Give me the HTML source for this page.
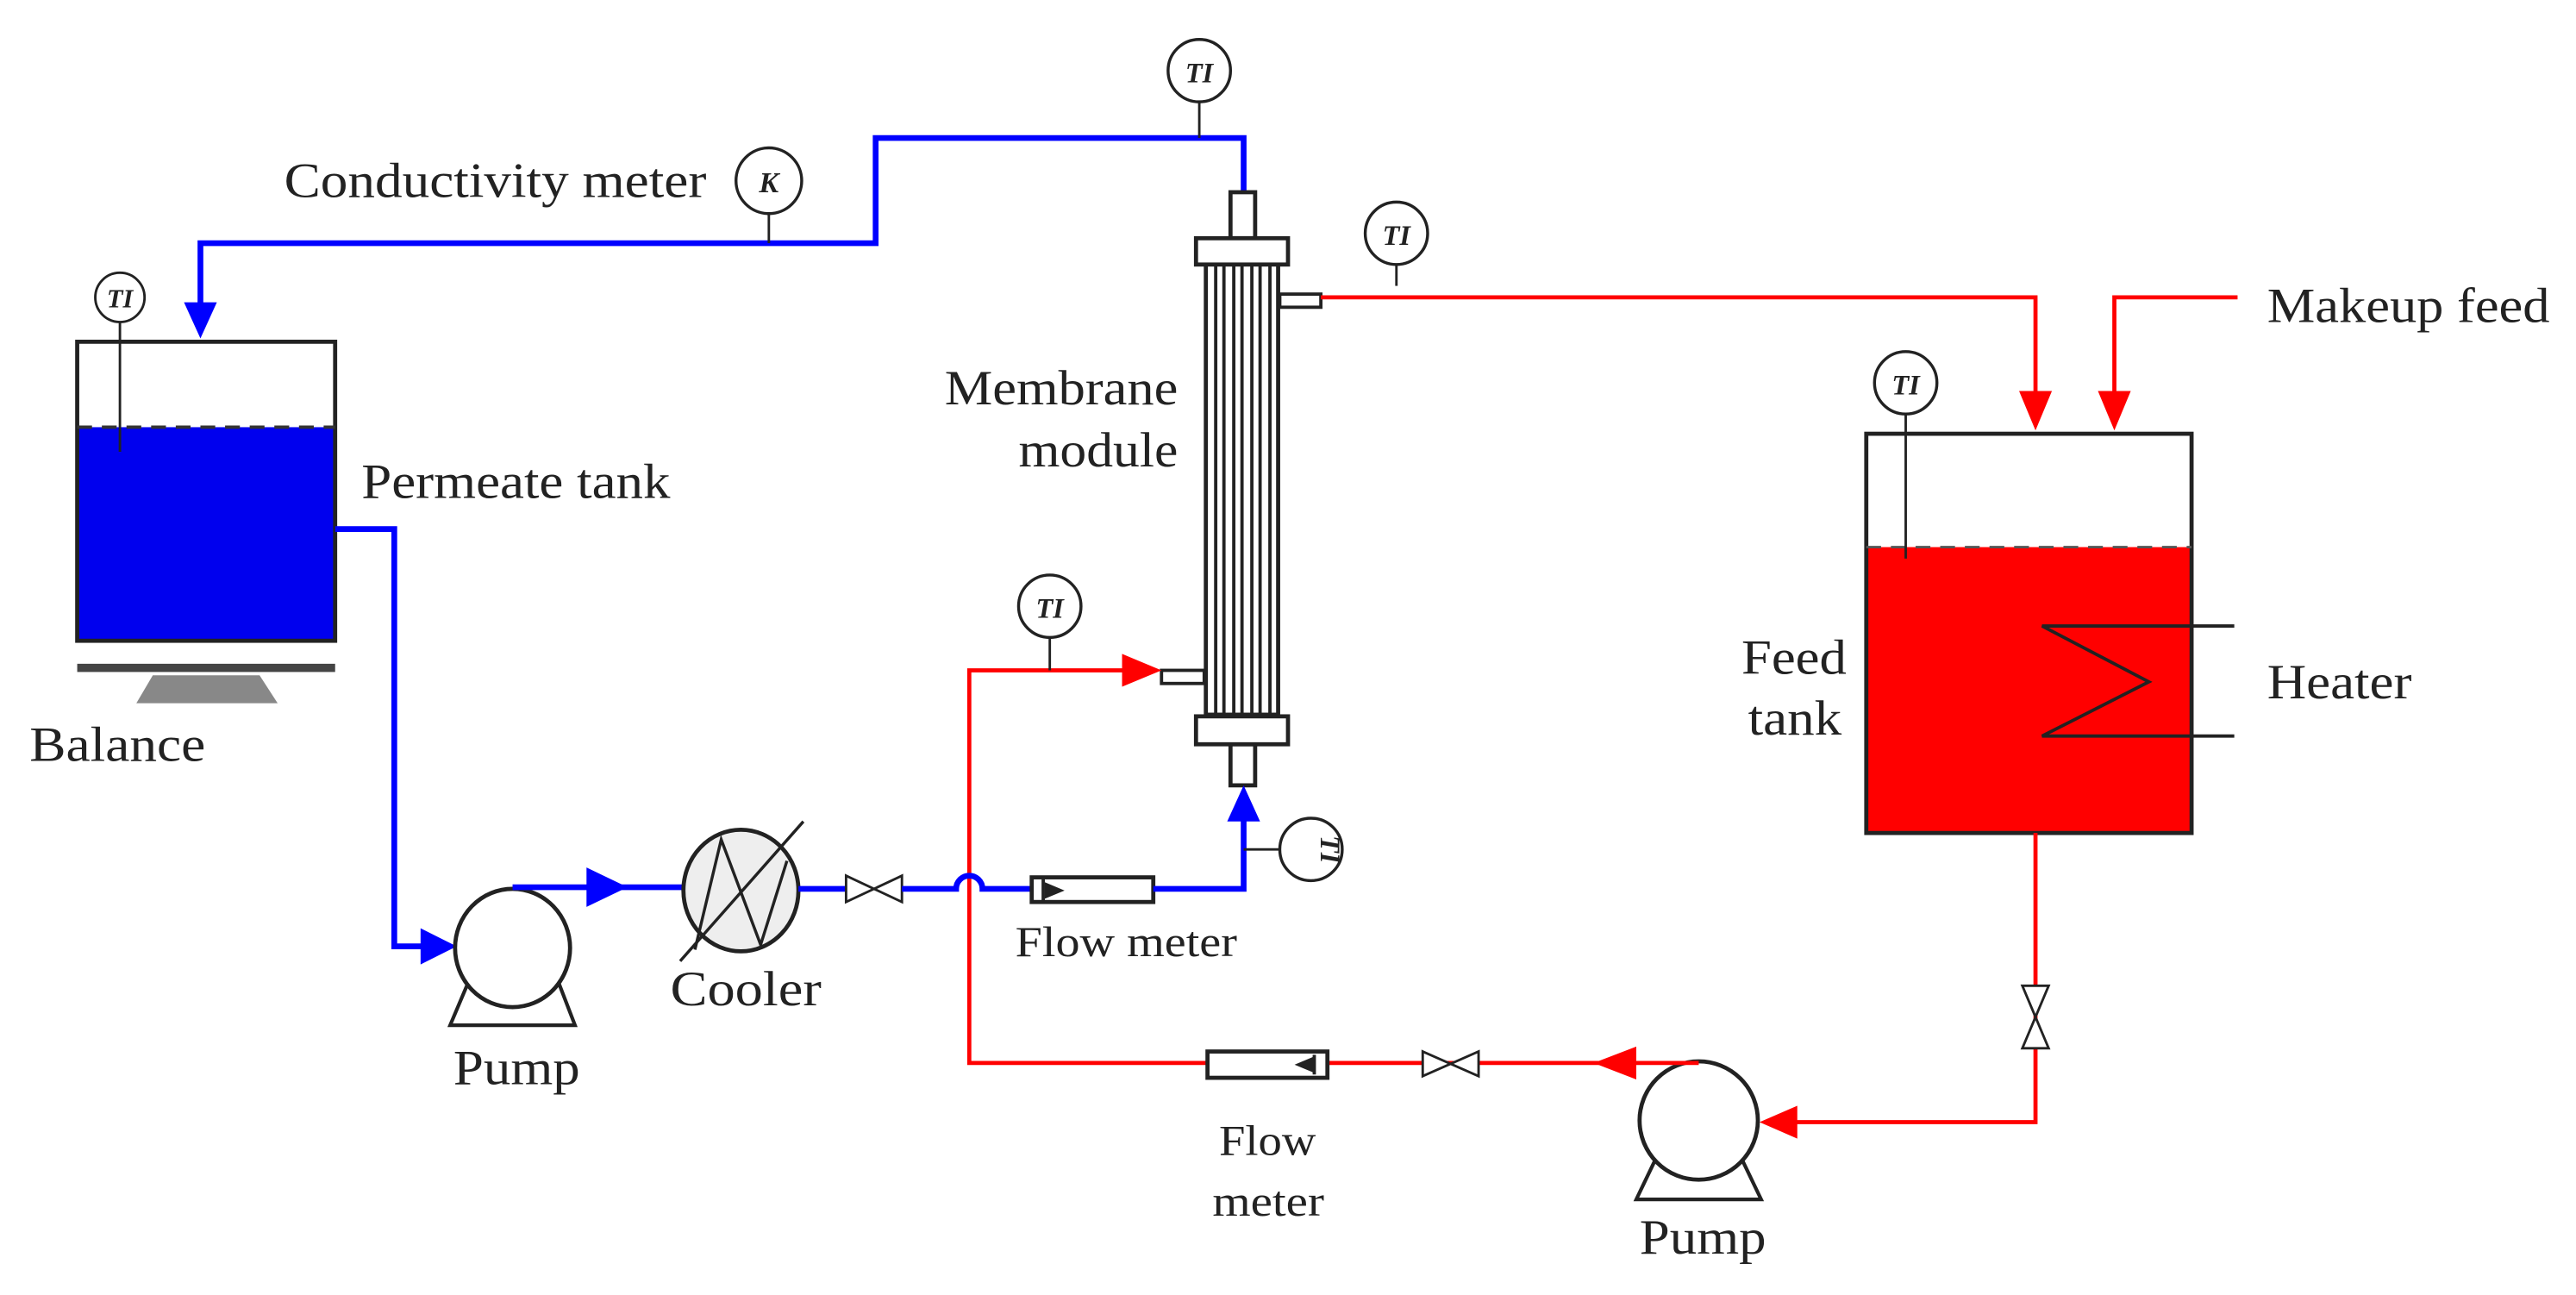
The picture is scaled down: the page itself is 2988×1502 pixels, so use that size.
<!DOCTYPE html>
<html><head><meta charset="utf-8"><style>
html,body{margin:0;padding:0;background:#fff;}
svg{display:block;}
text{font-family:"Liberation Serif",serif;fill:#222;}
</style></head><body>
<svg width="2988" height="1502" viewBox="0 0 1568 788.2" preserveAspectRatio="none" xmlns="http://www.w3.org/2000/svg">
<rect x="0" y="0" width="1568" height="789" fill="#fff"/>
<!-- Permeate tank -->
<rect x="47" y="260" width="157" height="130" fill="#0000ee"/>
<rect x="47" y="208" width="157" height="182" fill="none" stroke="#222" stroke-width="2.5"/>
<line x1="47" y1="260" x2="204" y2="260" stroke="#333" stroke-width="2" stroke-dasharray="9,6"/>
<line x1="73" y1="196" x2="73" y2="275" stroke="#222" stroke-width="1.5"/>
<circle cx="73" cy="181" r="15" fill="#fff" stroke="#222" stroke-width="1.5"/>
<text x="73" y="187" font-size="16" font-style="italic" font-weight="bold" text-anchor="middle">TI</text>
<!-- Balance -->
<rect x="47" y="404" width="157" height="5" fill="#444"/>
<polygon points="93,411 158,411 169,428 83,428" fill="#888"/>
<text x="18" y="463" font-size="30" textLength="107" lengthAdjust="spacingAndGlyphs">Balance</text>
<text x="220" y="303" font-size="30" textLength="188" lengthAdjust="spacingAndGlyphs">Permeate tank</text>
<!-- Blue top line -->
<polyline points="122,185 122,148 533,148 533,84 757,84 757,117" fill="none" stroke="#0000ff" stroke-width="3.5"/>
<polygon points="112,184 132,184 122,206" fill="#0000ff"/>
<line x1="468" y1="130" x2="468" y2="148" stroke="#222" stroke-width="1.5"/>
<circle cx="468" cy="110" r="20" fill="#fff" stroke="#222" stroke-width="1.8"/>
<text x="468" y="117" font-size="18" font-style="italic" font-weight="bold" text-anchor="middle">K</text>
<text x="173" y="120" font-size="30" textLength="257" lengthAdjust="spacingAndGlyphs">Conductivity meter</text>
<line x1="730" y1="62" x2="730" y2="84" stroke="#222" stroke-width="1.5"/>
<circle cx="730" cy="43" r="19" fill="#fff" stroke="#222" stroke-width="1.8"/>
<text x="730" y="50" font-size="17" font-style="italic" font-weight="bold" text-anchor="middle">TI</text>
<!-- Membrane module -->
<rect x="749" y="117" width="15" height="28" fill="#fff" stroke="#222" stroke-width="2.5"/>
<rect x="749" y="453" width="15" height="25" fill="#fff" stroke="#222" stroke-width="2.5"/>
<rect x="779" y="179" width="25" height="8" fill="#fff" stroke="#222" stroke-width="2"/>
<rect x="707" y="408" width="26" height="8" fill="#fff" stroke="#222" stroke-width="2"/>
<rect x="734" y="160" width="44" height="275" fill="#fff" stroke="#222" stroke-width="2.5"/>
<g stroke="#222" stroke-width="2">
<line x1="740" y1="160" x2="740" y2="435"/><line x1="745" y1="160" x2="745" y2="435"/>
<line x1="751" y1="160" x2="751" y2="435"/><line x1="756" y1="160" x2="756" y2="435"/>
<line x1="762" y1="160" x2="762" y2="435"/><line x1="767" y1="160" x2="767" y2="435"/>
<line x1="773" y1="160" x2="773" y2="435"/>
</g>
<rect x="728" y="145" width="56" height="16" fill="#fff" stroke="#222" stroke-width="2.5"/>
<rect x="728" y="436" width="56" height="17" fill="#fff" stroke="#222" stroke-width="2.5"/>
<text x="717" y="246" font-size="30" text-anchor="end" textLength="142" lengthAdjust="spacingAndGlyphs">Membrane</text>
<text x="717" y="284" font-size="30" text-anchor="end" textLength="97" lengthAdjust="spacingAndGlyphs">module</text>
<!-- Red top line -->
<polyline points="804,181 1239,181 1239,240" fill="none" stroke="#ff0000" stroke-width="2.5"/>
<polygon points="1229,238 1249,238 1239,262" fill="#ff0000"/>
<polyline points="1362,181 1287,181 1287,240" fill="none" stroke="#ff0000" stroke-width="2.5"/>
<polygon points="1277,238 1297,238 1287,262" fill="#ff0000"/>
<line x1="850" y1="161" x2="850" y2="174" stroke="#222" stroke-width="1.5"/>
<circle cx="850" cy="142" r="19" fill="#fff" stroke="#222" stroke-width="1.8"/>
<text x="850" y="149" font-size="17" font-style="italic" font-weight="bold" text-anchor="middle">TI</text>
<text x="1380" y="196" font-size="30" textLength="172" lengthAdjust="spacingAndGlyphs">Makeup feed</text>
<!-- Feed tank -->
<rect x="1136" y="333" width="198" height="174" fill="#ff0000"/>
<rect x="1136" y="264" width="198" height="243" fill="none" stroke="#222" stroke-width="2.5"/>
<line x1="1136" y1="333" x2="1334" y2="333" stroke="#555" stroke-width="1.5" stroke-dasharray="9,6"/>
<line x1="1160" y1="252" x2="1160" y2="340" stroke="#222" stroke-width="1.5"/>
<circle cx="1160" cy="233" r="19" fill="#fff" stroke="#222" stroke-width="1.8"/>
<text x="1160" y="240" font-size="17" font-style="italic" font-weight="bold" text-anchor="middle">TI</text>
<polyline points="1360,381 1243,381 1308,415 1243,448 1360,448" fill="none" stroke="#222" stroke-width="2"/>
<text x="1060" y="410" font-size="30" textLength="64" lengthAdjust="spacingAndGlyphs">Feed</text>
<text x="1064" y="447" font-size="30" textLength="57" lengthAdjust="spacingAndGlyphs">tank</text>
<text x="1380" y="425" font-size="30" textLength="88" lengthAdjust="spacingAndGlyphs">Heater</text>
<!-- Red bottom loop -->
<polyline points="1239,507 1239,683 1090,683" fill="none" stroke="#ff0000" stroke-width="2.5"/>
<polygon points="1231,600 1247,600 1231,638 1247,638" fill="#fff" stroke="#222" stroke-width="1.5"/>
<polygon points="1094,673 1094,693 1071,683" fill="#ff0000"/>
<polygon points="1008,705 1060,705 1072,730 996,730" fill="#fff" stroke="#222" stroke-width="2.2"/>
<circle cx="1034" cy="682" r="36" fill="#fff" stroke="#222" stroke-width="2.5"/>
<text x="998" y="763" font-size="30" textLength="77" lengthAdjust="spacingAndGlyphs">Pump</text>
<polyline points="1034,647 590,647 590,408 690,408" fill="none" stroke="#ff0000" stroke-width="2.5"/>
<polygon points="996,637 996,657 970,647" fill="#ff0000"/>
<polygon points="683,398 683,418 707,408" fill="#ff0000"/>
<polygon points="866,640 866,655 900,640 900,655" fill="#fff" stroke="#222" stroke-width="1.5"/>
<rect x="735" y="640" width="73" height="16" fill="#fff" stroke="#222" stroke-width="2.5"/>
<polygon points="800,643 800,653 788,648" fill="#222"/>
<line x1="800" y1="642" x2="800" y2="654" stroke="#222" stroke-width="2"/>
<text x="742" y="703" font-size="26" textLength="59" lengthAdjust="spacingAndGlyphs">Flow</text>
<text x="738" y="740" font-size="26" textLength="68" lengthAdjust="spacingAndGlyphs">meter</text>
<line x1="639" y1="388" x2="639" y2="408" stroke="#222" stroke-width="1.5"/>
<circle cx="639" cy="369" r="19" fill="#fff" stroke="#222" stroke-width="1.8"/>
<text x="639" y="376" font-size="17" font-style="italic" font-weight="bold" text-anchor="middle">TI</text>
<!-- Blue bottom loop -->
<polyline points="204,322 240,322 240,576 260,576" fill="none" stroke="#0000ff" stroke-width="3.5"/>
<polygon points="256,565 256,587 278,576" fill="#0000ff"/>
<polygon points="285,598 340,598 350,624 274,624" fill="#fff" stroke="#222" stroke-width="2.2"/>
<ellipse cx="312" cy="577" rx="35" ry="36" fill="#fff" stroke="#222" stroke-width="2.5"/>
<text x="276" y="660" font-size="30" textLength="77" lengthAdjust="spacingAndGlyphs">Pump</text>
<polyline points="312,540 417,540" fill="none" stroke="#0000ff" stroke-width="3.5"/>
<polygon points="357,528 357,552 382,540" fill="#0000ff"/>
<ellipse cx="451" cy="542" rx="35" ry="37" fill="#eee" stroke="#222" stroke-width="2.5"/>
<polyline points="423,578 439,511 463,575 479,524" fill="none" stroke="#222" stroke-width="1.8"/>
<line x1="414" y1="585" x2="489" y2="500" stroke="#222" stroke-width="1.8"/>
<text x="408" y="612" font-size="30" textLength="92" lengthAdjust="spacingAndGlyphs">Cooler</text>
<polyline points="486,541 515,541" fill="none" stroke="#0000ff" stroke-width="3.5"/>
<polygon points="515,533 515,549 549,533 549,549" fill="#fff" stroke="#222" stroke-width="1.5"/>
<path d="M549,541 L582,541 A8,8 0 0 1 598,541 L628,541" fill="none" stroke="#0000ff" stroke-width="3.5"/>
<rect x="628" y="534" width="74" height="15" fill="#fff" stroke="#222" stroke-width="2.5"/>
<line x1="635" y1="535" x2="635" y2="548" stroke="#222" stroke-width="2"/>
<polygon points="636,537 636,547 648,542" fill="#222"/>
<polyline points="702,541 757,541 757,498" fill="none" stroke="#0000ff" stroke-width="3.5"/>
<polygon points="747,500 767,500 757,478" fill="#0000ff"/>
<line x1="757" y1="517" x2="779" y2="517" stroke="#222" stroke-width="1.5"/>
<circle cx="798" cy="517" r="19" fill="#fff" stroke="#222" stroke-width="1.8"/>
<text x="0" y="0" font-size="17" font-style="italic" font-weight="bold" text-anchor="middle" transform="translate(804,517) rotate(90)">TI</text>
<text x="618" y="582" font-size="26" textLength="135" lengthAdjust="spacingAndGlyphs">Flow meter</text>
</svg>
</body></html>
